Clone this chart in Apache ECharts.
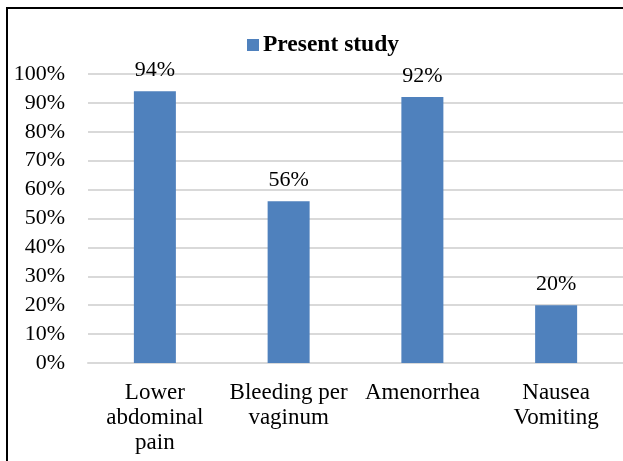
<!DOCTYPE html>
<html>
<head>
<meta charset="utf-8">
<script src="https://cdn.jsdelivr.net/npm/echarts@6/dist/echarts.min.js"></script>
<style>
  html, body { margin: 0; padding: 0; background: #fff; }
  #frame { position: absolute; left: 6px; top: 7px; width: 617px; height: 454px; border-left: 2px solid #000; border-top: 2px solid #000; }
  #chart { position: absolute; left: 0; top: 0; width: 623px; height: 461px; }
</style>
</head>
<body>
<div id="frame"></div>
<div id="chart"></div>
<script>
const categories = ['Lower\nabdominal\npain', 'Bleeding per\nvaginum', 'Amenorrhea', 'Nausea\nVomiting'];
const seriesName = 'Present study';
const values = [94, 56, 92, 20];
const yTicks = { min: 0, max: 100, interval: 10 };

const font = '"Liberation Serif", "Times New Roman", serif';
const chart = echarts.init(document.getElementById('chart'), null, { renderer: 'canvas' });
chart.setOption({
  animation: false,
  backgroundColor: 'transparent',
  legend: {
    data: [seriesName],
    left: 247,
    top: 33,
    padding: 0,
    icon: 'rect',
    itemWidth: 12,
    itemHeight: 12,
    itemGap: 4,
    textStyle: { fontFamily: font, fontSize: 23.5, fontWeight: 'bold', color: '#000', padding: [0, 0, 0, -1] }
  },
  grid: { left: 88, right: -2, top: 74, bottom: 98, containLabel: false },
  xAxis: {
    type: 'category',
    data: categories,
    axisLine: { show: true, lineStyle: { color: '#d9d9d9', width: 2 } },
    axisTick: { show: false },
    axisLabel: { interval: 0, fontFamily: font, fontSize: 23, color: '#000', lineHeight: 25, margin: 17 }
  },
  yAxis: {
    type: 'value',
    min: yTicks.min,
    max: yTicks.max,
    interval: yTicks.interval,
    axisLine: { show: false },
    axisTick: { show: false },
    splitLine: { lineStyle: { color: '#d9d9d9', width: 2 } },
    axisLabel: { formatter: '{value}%', fontFamily: font, fontSize: 22, color: '#000', margin: 23 }
  },
  series: [{
    name: seriesName,
    type: 'bar',
    data: values,
    barWidth: 42,
    itemStyle: { color: '#4F81BD' },
    label: {
      show: true,
      position: 'top',
      distance: 10,
      formatter: '{c}%',
      fontFamily: font,
      fontSize: 22,
      color: '#000'
    }
  }]
});
</script>
</body>
</html>
